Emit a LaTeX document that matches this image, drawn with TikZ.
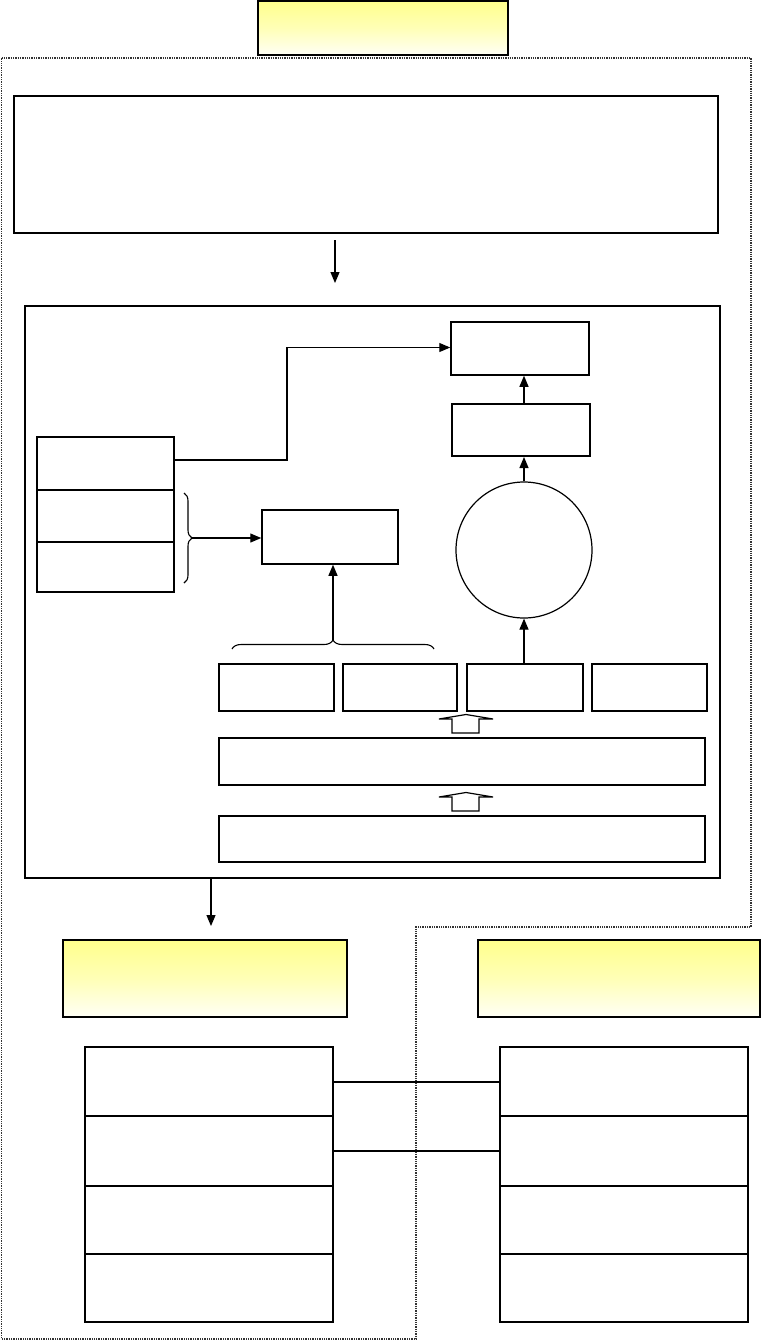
\documentclass[tikz,border=0pt]{standalone}
\usetikzlibrary{arrows.meta,decorations.pathreplacing,calc}
\definecolor{ytop}{RGB}{255,255,140}
\definecolor{ybot}{RGB}{255,255,246}
\tikzset{
  box/.style={draw=black, line width=1.5pt, inner sep=0pt, fill=white},
  thickbox/.style={box, line width=2.3pt},
  ybox/.style={draw=black, line width=2.2pt, inner sep=0pt, top color=ytop, bottom color=ybot, middle color=ytop!60!ybot},
  arr/.style={line width=1.2pt, -{Triangle[length=11pt,width=9pt]}},
  conn/.style={line width=1.2pt},
  lineconn/.style={line width=2pt},
  outline/.style={densely dotted, line width=1.3pt, draw=black!80},
  bracestyle/.style={line width=1.1pt, decorate, decoration={brace, amplitude=8pt}},
  hollow/.style={draw=black, line width=1.2pt, fill=white}
}
\begin{document}
\begin{tikzpicture}[x=1pt,y=-1pt]
\useasboundingbox[fill=white] (0,0) rectangle (761,1342);
% dotted outline
\draw[outline] (1.5,58) -- (751,58) -- (751,927) -- (416,927) -- (416,1339) -- (1.5,1339) -- cycle;
% top title
\node[ybox, minimum width=250pt, minimum height=54pt] (title) at (383,28) {};
% input box
\node[thickbox, minimum width=704pt, minimum height=137pt] (in1) at (366,164.5) {};
\coordinate (a1) at (335,240);
\coordinate (a2) at (335,283);
\draw[arr] (a1) -- (a2);
% main box
\node[box, line width=1.6pt, minimum width=695pt, minimum height=572pt] (main) at (372.5,592) {};
% right column
\node[box, minimum width=138pt, minimum height=53pt] (A) at (520,348.5) {};
\node[box, line width=2pt, minimum width=138pt, minimum height=52pt] (B) at (521,430) {};
\node[draw=black, line width=1.2pt, circle, minimum size=136pt, inner sep=0pt] (circ) at (524,550) {};
\draw[arr] (B.north -| 524,0) -- (A.south -| 524,0);
\draw[arr] (circ.north) -- (B.south -| circ.north);
% left stack
\node[box, minimum width=137pt, minimum height=53pt] (S1) at (105.5,463.5) {};
\node[box, minimum width=137pt, minimum height=52pt] (S2) at (105.5,516) {};
\node[box, minimum width=137pt, minimum height=50pt] (S3) at (105.5,567) {};
\coordinate (k0) at (174,460);
\coordinate (k) at (287,347.5);
\draw[arr] (S1.east |- k0) -| (k) -- (A.west |- k);
% box C
\node[box, minimum width=136pt, minimum height=54pt] (C) at (330,537) {};
\coordinate (vb1) at (184,493);
\coordinate (vb2) at (184,583);
\draw[bracestyle] (vb1) -- (vb2);
\coordinate (vtip) at (192,538);
\draw[arr] (vtip) -- (vtip -| C.west);
\coordinate (hb1) at (232,649);
\coordinate (hb2) at (434,649);
\draw[bracestyle, decoration={brace, amplitude=9pt}] (hb1) -- (hb2);
\coordinate (htip) at (333,640);
\draw[arr] (htip) -- (C.south -| htip);
% row of four
\node[box, minimum width=115pt, minimum height=47pt] (R1) at (276.5,687.5) {};
\node[box, minimum width=114pt, minimum height=47pt] (R2) at (400,687.5) {};
\node[box, minimum width=116pt, minimum height=47pt] (R3) at (525,687.5) {};
\node[box, minimum width=115pt, minimum height=47pt] (R4) at (649.5,687.5) {};
\draw[arr] (R3.north -| circ.south) -- (circ.south);
% wide boxes
\node[box, line width=2pt, minimum width=486pt, minimum height=47pt] (W1) at (462,761.5) {};
\node[box, line width=2pt, minimum width=486pt, minimum height=46pt] (W2) at (462,839) {};
% hollow arrows
\draw[hollow] (439,719) -- (466,714.5) -- (493,719) -- (479,719) -- (479,733) -- (452,733) -- (452,719) -- cycle;
\draw[hollow] (439,797) -- (466,792.5) -- (493,797) -- (479,797) -- (479,811) -- (452,811) -- (452,797) -- cycle;
% arrow down out of main
\coordinate (d2) at (211,926);
\draw[arr] (main.south -| d2) -- (d2);
% yellow boxes
\node[ybox, minimum width=284pt, minimum height=77pt] (YL) at (205,978.5) {};
\node[ybox, minimum width=282pt, minimum height=77pt] (YR) at (619,978.5) {};
% bottom stacks
\node[thickbox, minimum width=248pt, minimum height=69pt] (L1) at (209,1081.5) {};
\node[thickbox, minimum width=248pt, minimum height=70pt] (L2) at (209,1151) {};
\node[thickbox, minimum width=248pt, minimum height=68pt] (L3) at (209,1220) {};
\node[thickbox, minimum width=248pt, minimum height=68pt] (L4) at (209,1288) {};
\node[thickbox, minimum width=248pt, minimum height=69pt] (Q1) at (624,1081.5) {};
\node[thickbox, minimum width=248pt, minimum height=70pt] (Q2) at (624,1151) {};
\node[thickbox, minimum width=248pt, minimum height=68pt] (Q3) at (624,1220) {};
\node[thickbox, minimum width=248pt, minimum height=68pt] (Q4) at (624,1288) {};
\draw[lineconn] (L1.east) -- (Q1.west);
\draw[lineconn] (L2.east) -- (Q2.west);
\end{tikzpicture}
\end{document}
